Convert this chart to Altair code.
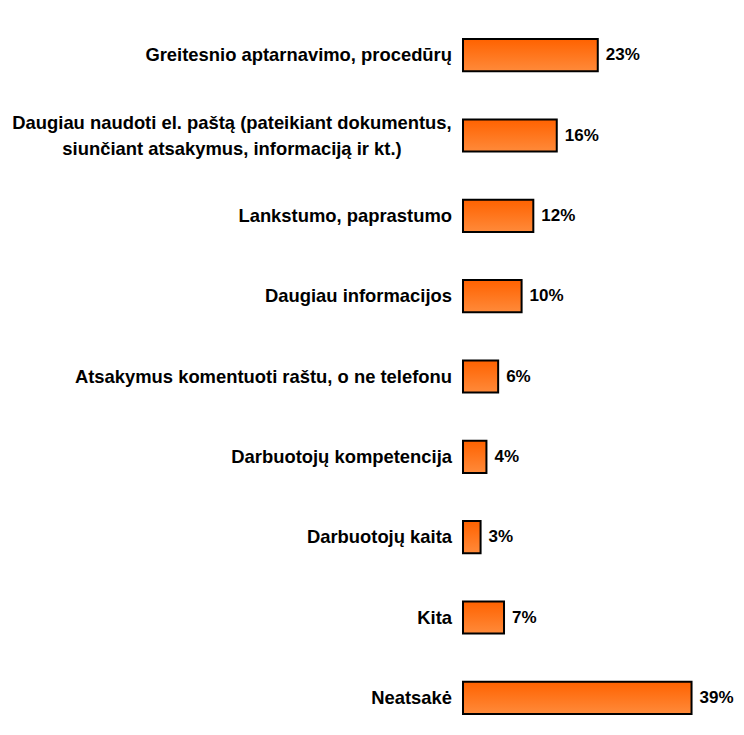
import altair as alt
import pandas as pd

categories = [
    "Greitesnio aptarnavimo, procedūrų",
    "Daugiau naudoti el. paštą (pateikiant dokumentus,\nsiunčiant atsakymus, informaciją ir kt.)",
    "Lankstumo, paprastumo",
    "Daugiau informacijos",
    "Atsakymus komentuoti raštu, o ne telefonu",
    "Darbuotojų kompetencija",
    "Darbuotojų kaita",
    "Kita",
    "Neatsakė",
]
values = [23, 16, 12, 10, 6, 4, 3, 7, 39]
value_labels = [f"{v}%" for v in values]
multiline = [False, True, False, False, False, False, False, False, False]

df = pd.DataFrame({"cat": categories, "val": values, "lab": value_labels, "ml": multiline})

FONT = "Liberation Sans"
FS = 18.4
FSV = 17
W = 273

y_enc = alt.Y(
    "cat:N",
    sort=categories,
    scale=alt.Scale(paddingInner=0.6, paddingOuter=0.3, range=[0, 723]),
    axis=alt.Axis(
        title=None,
        labels=False,
        domainColor="black",
        domainWidth=2,
        tickColor="black",
        tickWidth=2,
        tickSize=6,
        tickBand="extent",
        grid=False,
    ),
)
y_plain = alt.Y("cat:N", sort=categories, axis=None)
x_scale = alt.Scale(domain=[0, W / 5.86], nice=False)

base = alt.Chart(df)

bars = base.mark_bar(
    color=alt.Gradient(
        gradient="linear",
        x1=0, y1=0, x2=0, y2=1,
        stops=[
            alt.GradientStop(color="#ff6200", offset=0),
            alt.GradientStop(color="#ff8a3a", offset=1),
        ],
    ),
    stroke="black",
    strokeWidth=2,
).encode(
    x=alt.X("val:Q", scale=x_scale, axis=None),
    y=y_enc,
)

vals = base.mark_text(
    align="left", baseline="middle", dx=8, font=FONT, fontSize=FSV, fontWeight="bold", color="black"
).encode(
    x=alt.X("val:Q", scale=x_scale, axis=None),
    y=y_plain,
    text="lab:N",
)

labels_single = base.transform_filter("!datum.ml").mark_text(
    align="right", baseline="middle", font=FONT, fontSize=FS, fontWeight="bold", color="black"
).encode(
    x=alt.value(-11),
    y=y_plain,
    text="cat:N",
)

labels_multi = base.transform_filter("datum.ml").mark_text(
    align="center", baseline="middle", font=FONT, fontSize=FS, fontWeight="bold",
    color="black", lineBreak="\n", lineHeight=26, dy=-13
).encode(
    x=alt.value(-231),
    y=y_plain,
    text="cat:N",
)

chart = alt.layer(bars, vals, labels_single, labels_multi).properties(
    width=W,
    height=712,
    padding={"left": 455, "top": 7, "right": 0, "bottom": 0},
    autosize=alt.AutoSizeParams(type="none"),
    background="white",
).configure_view(stroke=None, strokeWidth=0)

chart.save("out.html", embed_options={"renderer": "svg", "actions": False})
